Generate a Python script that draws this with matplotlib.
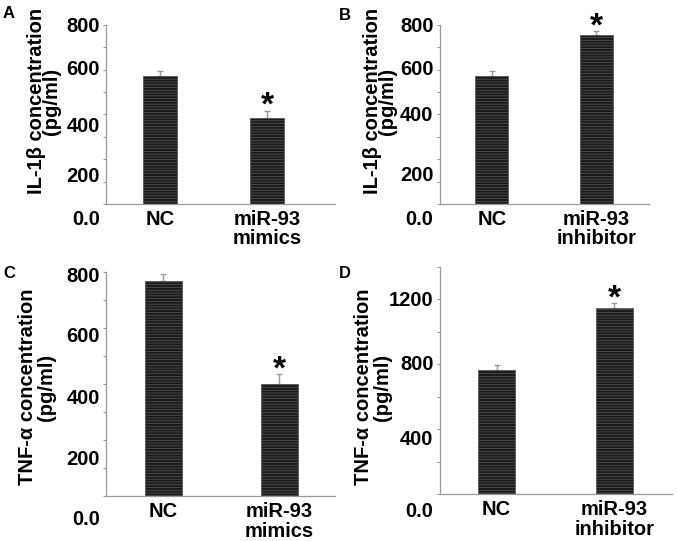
import numpy as np
import matplotlib.pyplot as plt

plt.rcParams['font.family'] = ['Liberation Sans', 'DejaVu Sans']
plt.rcParams['font.weight'] = 'bold'
plt.rcParams['hatch.color'] = "#242424"
plt.rcParams['hatch.linewidth'] = 0.5

# data
groups_a = ["NC", "miR-93\nmimics"]
groups_b = ["NC", "miR-93\ninhibitor"]
il1b_mimics = [571, 384]
il1b_mimics_err = [22, 32]
il1b_inhib = [570, 755]
il1b_inhib_err = [22, 15]
tnfa_mimics = [769, 401]
tnfa_mimics_err = [26, 35]
tnfa_inhib = [767, 1149]
tnfa_inhib_err = [29, 26]

# tick labels as printed (they sit slightly off the tick marks in the original)
ylab_il1b = ["800", "600", "400", "200", "0.0"]
ylab_tnfa_c = ["800", "600", "400", "200", "0.0"]
ylab_tnfa_d = ["1200", "800", "400", "0.0"]

GREY = "#9a9a9a"
BAR = "#1a1a1a"
FS = 14.5

fig = plt.figure(figsize=(6.77, 5.41), dpi=100)

panels = [
    # letter, rect, groups, vals, errs, ymax, tickstep, labels, label y, ylabel, xlim,
    # ylabel centre (px), ylabel line spacing
    ("A", [0.1566, 0.6229, 0.3383, 0.3314], groups_a, il1b_mimics, il1b_mimics_err,
     800, 100, ylab_il1b, [794, 598, 345, 122, -71],
     "IL-1\u03b2 concentration\n(pg/ml)", (-0.5, 1.63), (44, 101), 0.7),
    ("B", [0.6495, 0.6229, 0.3087, 0.3314], groups_b, il1b_inhib, il1b_inhib_err,
     800, 100, ylab_il1b, [794, 601, 397, 129, -71],
     "IL-1\u03b2 concentration\n(pg/ml)", (-0.5, 1.5), (380, 101), 0.7),
    ("C", [0.1566, 0.0826, 0.3383, 0.4140], groups_a, tnfa_mimics, tnfa_mimics_err,
     800, 100, ylab_tnfa_c, [784, 570, 350, 130, -84],
     "TNF-\u03b1 concentration\n(pg/ml)", (-0.495, 1.48), (37, 387), 1.0),
    ("D", [0.6495, 0.0863, 0.3431, 0.4207], groups_b, tnfa_inhib, tnfa_inhib_err,
     1400, 200, ylab_tnfa_d, [1195, 801, 340, -107],
     "TNF-\u03b1 concentration\n(pg/ml)", (-0.484, 1.49), (373, 387), 1.0),
]

letter_pos = {"A": (9, 14), "B": (345, 15), "C": (9, 273), "D": (345, 274)}

for (letter, rect, groups, vals, errs, ymax, step, labs, labpos, ylabel, xlim,
     ylpos, ylsp) in panels:
    ax = fig.add_axes(rect)
    x = np.arange(len(groups))
    ax.bar(x, vals, width=0.316, color=BAR, edgecolor="#5a5a5a", linewidth=0.6,
           hatch="------", zorder=2)
    ax.errorbar(x, vals, yerr=[np.zeros(len(errs)), errs], fmt="none",
                ecolor=GREY, elinewidth=1, capsize=2, capthick=1, zorder=1)
    # asterisk over the treated group
    ax.annotate("*", (x[1], vals[1] + errs[1]), xytext=(0, -8),
                textcoords="offset points", ha="center", va="bottom",
                fontsize=24, fontweight="bold")

    ax.set_xlim(*xlim)
    ax.set_ylim(0, ymax)
    ax.set_yticks(np.arange(0, ymax + 1, step))
    ax.set_yticklabels([])
    ax.set_xticks(x)
    ax.set_xticklabels(groups, fontsize=FS, fontweight="bold", linespacing=1.05)
    ax.tick_params(axis="x", length=0, pad=4)
    ax.tick_params(axis="y", length=2.5, width=0.8, color=GREY)
    for s in ["top", "right"]:
        ax.spines[s].set_visible(False)
    for s in ["left", "bottom"]:
        ax.spines[s].set_color(GREY)
        ax.spines[s].set_linewidth(0.9)

    for t, yv in zip(labs, labpos):
        ax.annotate(t, (0, yv), xycoords=("axes fraction", "data"),
                    xytext=(-4.5, 0), textcoords="offset points",
                    ha="right", va="center", fontsize=FS, fontweight="bold",
                    annotation_clip=False)

    fig.text(ylpos[0] / 677, 1 - ylpos[1] / 541, ylabel, rotation=90,
             ha="center", va="center", multialignment="center",
             fontsize=FS, fontweight="bold", linespacing=ylsp)
    lx, ly = letter_pos[letter]
    fig.text(lx / 677, 1 - ly / 541, letter, ha="center", va="center",
             fontsize=12, fontweight="bold")

fig.savefig("out.png", dpi=100)
